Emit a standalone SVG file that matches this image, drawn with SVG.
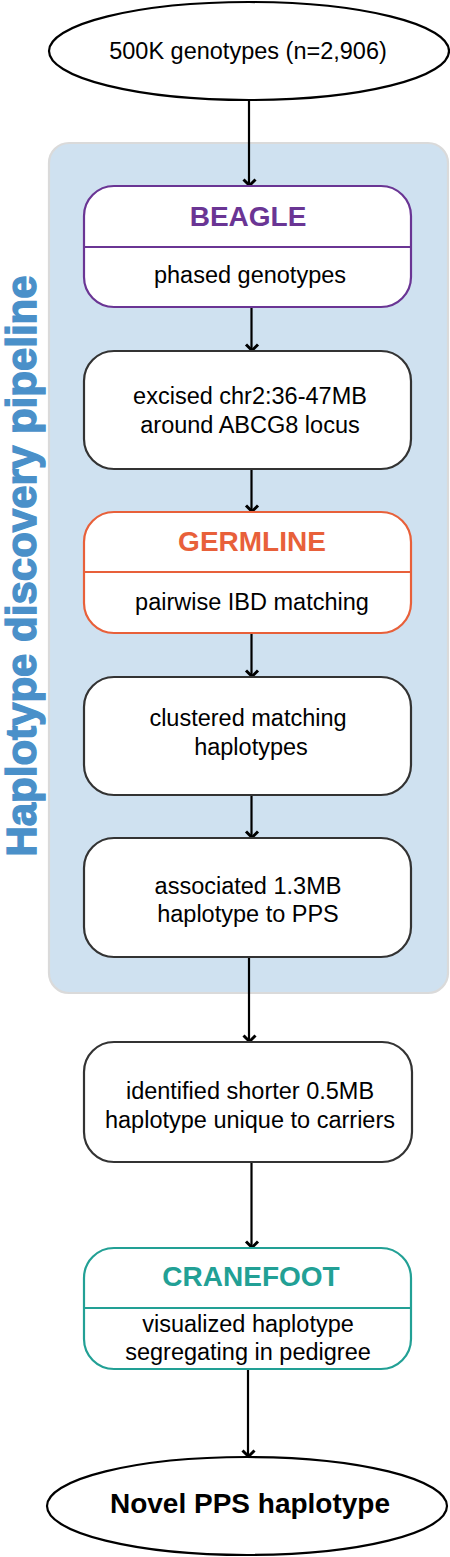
<svg xmlns="http://www.w3.org/2000/svg" width="450" height="1557" viewBox="0 0 450 1557">
<style>
.t{font-family:"Liberation Sans",Arial,sans-serif;font-size:23.5px;fill:#000;text-anchor:middle}
.h{font-family:"Liberation Sans",Arial,sans-serif;font-size:28px;font-weight:bold;text-anchor:middle}
.box{fill:#fff;stroke-width:2.2}
.plain{stroke:#333}
.conn line{stroke:#000;stroke-width:2.2}
</style>
<defs>
<marker id="arr" viewBox="-9 -8 11 16" refX="0" refY="0" markerWidth="11" markerHeight="16" markerUnits="userSpaceOnUse" orient="auto">
<path d="M-6.5,-6.5 L-0.5,-0.5 L-6.5,5.5" fill="none" stroke="#000" stroke-width="3"/>
</marker>
</defs>
<rect width="450" height="1557" fill="#fff"/>
<g id="pipeline-group">
<rect x="49" y="143" width="399" height="850" rx="20" fill="#cfe1f0" stroke="#dadada" stroke-width="2.2"/>
<text transform="translate(35.5,566) rotate(-90)" font-family="'Liberation Sans',Arial,sans-serif" font-size="42" font-weight="bold" fill="#4a90c9" stroke="#4a90c9" stroke-width="1.4" text-anchor="middle">Haplotype discovery pipeline</text>
</g>
<g class="conn" id="connectors">
<line x1="249" y1="101" x2="249" y2="186" marker-end="url(#arr)"/>
<line x1="251.5" y1="307" x2="251.5" y2="351" marker-end="url(#arr)"/>
<line x1="251.5" y1="469" x2="251.5" y2="512" marker-end="url(#arr)"/>
<line x1="251.5" y1="633" x2="251.5" y2="677" marker-end="url(#arr)"/>
<line x1="251.5" y1="795" x2="251.5" y2="838" marker-end="url(#arr)"/>
<line x1="249" y1="957" x2="249" y2="1042" marker-end="url(#arr)"/>
<line x1="251.5" y1="1162" x2="251.5" y2="1248" marker-end="url(#arr)"/>
<line x1="248" y1="1369" x2="248" y2="1457" marker-end="url(#arr)"/>
</g>
<g id="input">
<ellipse cx="249" cy="51" rx="200" ry="49" fill="#fff" stroke="#000" stroke-width="2.2"/>
<text class="t" x="248" y="59">500K genotypes (n=2,906)</text>
</g>
<g id="beagle">
<rect class="box" x="84" y="186" width="327" height="121" rx="30" stroke="#6a3594"/>
<line x1="84" y1="247" x2="411" y2="247" stroke="#6a3594" stroke-width="2.2"/>
<text class="h" x="248" y="226" fill="#6a3594">BEAGLE</text>
<text class="t" x="250" y="283">phased genotypes</text>
</g>
<g id="excise">
<rect class="box plain" x="84" y="351" width="327" height="118" rx="30"/>
<text class="t" x="250" y="404">excised chr2:36-47MB</text>
<text class="t" x="250" y="433">around ABCG8 locus</text>
</g>
<g id="germline">
<rect class="box" x="84" y="512" width="327" height="121" rx="30" stroke="#e8603a"/>
<line x1="84" y1="572" x2="411" y2="572" stroke="#e8603a" stroke-width="2.2"/>
<text class="h" x="252" y="551" fill="#e8603a">GERMLINE</text>
<text class="t" x="252" y="610">pairwise IBD matching</text>
</g>
<g id="cluster">
<rect class="box plain" x="84" y="677" width="327" height="118" rx="30"/>
<text class="t" x="248" y="726">clustered matching</text>
<text class="t" x="251" y="755">haplotypes</text>
</g>
<g id="associate">
<rect class="box plain" x="84" y="838" width="327" height="119" rx="30"/>
<text class="t" x="248" y="894">associated 1.3MB</text>
<text class="t" x="248" y="922">haplotype to PPS</text>
</g>
<g id="identify">
<rect class="box plain" x="84" y="1042" width="328" height="120" rx="30"/>
<text class="t" x="250" y="1099">identified shorter 0.5MB</text>
<text class="t" x="250" y="1128">haplotype unique to carriers</text>
</g>
<g id="cranefoot">
<rect class="box" x="84" y="1248" width="327" height="121" rx="30" stroke="#22a095"/>
<line x1="84" y1="1308" x2="411" y2="1308" stroke="#22a095" stroke-width="2.2"/>
<text class="h" x="251" y="1286" fill="#22a095">CRANEFOOT</text>
<text class="t" x="248" y="1332">visualized haplotype</text>
<text class="t" x="248" y="1360">segregating in pedigree</text>
</g>
<g id="output">
<ellipse cx="247" cy="1506" rx="200" ry="49" fill="#fff" stroke="#000" stroke-width="2.2"/>
<text class="h" x="250" y="1513" fill="#000">Novel PPS haplotype</text>
</g>
</svg>
